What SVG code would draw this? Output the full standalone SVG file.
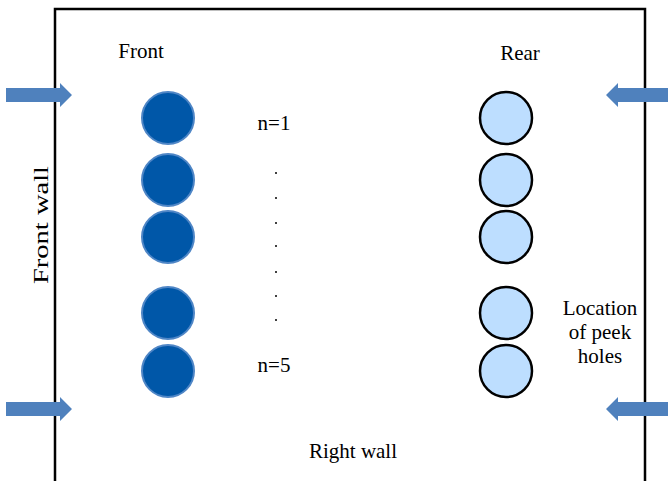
<svg xmlns="http://www.w3.org/2000/svg" width="668" height="481" viewBox="0 0 668 481">
<style>
text{font-family:"Liberation Serif","Times New Roman","DejaVu Serif",serif;font-size:21px;fill:#000}
.front{fill:#0057A8;stroke:#4F86C6;stroke-width:2}
.rear{fill:#BDDEFF;stroke:#000;stroke-width:2.5}
.arrow{fill:#4F81BD}
</style>
<rect width="668" height="481" fill="#fff"/>
<g id="walls">
<path d="M55,481 V9 H645 V481" fill="none" stroke="#000" stroke-width="2.5"/>
</g>
<g id="connectors">
<polygon class="arrow" points="6,88 60,88 60,83 72,95 60,107 60,102 6,102"/>
<polygon class="arrow" points="6,402 60,402 60,397 72,409 60,421 60,416 6,416"/>
<polygon class="arrow" points="668,88 618,88 618,83 606,95 618,107 618,102 668,102"/>
<polygon class="arrow" points="668,402 618,402 618,397 606,409 618,421 618,416 668,416"/>
</g>
<g id="front-holes">
<circle class="front" cx="168" cy="118" r="26"/>
<circle class="front" cx="168" cy="180" r="26"/>
<circle class="front" cx="168" cy="237" r="26"/>
<circle class="front" cx="168" cy="313" r="26"/>
<circle class="front" cx="168" cy="371" r="26"/>
</g>
<g id="rear-holes">
<circle class="rear" cx="506" cy="118" r="26"/>
<circle class="rear" cx="506" cy="180" r="26"/>
<circle class="rear" cx="506" cy="237" r="26"/>
<circle class="rear" cx="506" cy="313" r="26"/>
<circle class="rear" cx="506" cy="371" r="26"/>
</g>
<g id="labels">
<text x="141" y="58" text-anchor="middle">Front</text>
<text x="520" y="60" text-anchor="middle">Rear</text>
<text x="274" y="130" text-anchor="middle">n=1</text>
<text x="274" y="372" text-anchor="middle">n=5</text>
<text x="225" y="48" text-anchor="middle" transform="rotate(-90 0 0) translate(-450 0)" textLength="118" lengthAdjust="spacingAndGlyphs">Front wall</text>
<text x="353" y="458" text-anchor="middle">Right wall</text>
<text x="600" y="315" text-anchor="middle">Location</text>
<text x="600" y="339" text-anchor="middle">of peek</text>
<text x="600" y="363" text-anchor="middle">holes</text>
</g>
<g id="dots" fill="#000">
<circle cx="276" cy="173" r="1"/>
<circle cx="276" cy="198" r="1"/>
<circle cx="276" cy="223" r="1"/>
<circle cx="276" cy="246" r="1"/>
<circle cx="276" cy="272" r="1"/>
<circle cx="276" cy="296" r="1"/>
<circle cx="276" cy="320" r="1"/>
</g>
</svg>
